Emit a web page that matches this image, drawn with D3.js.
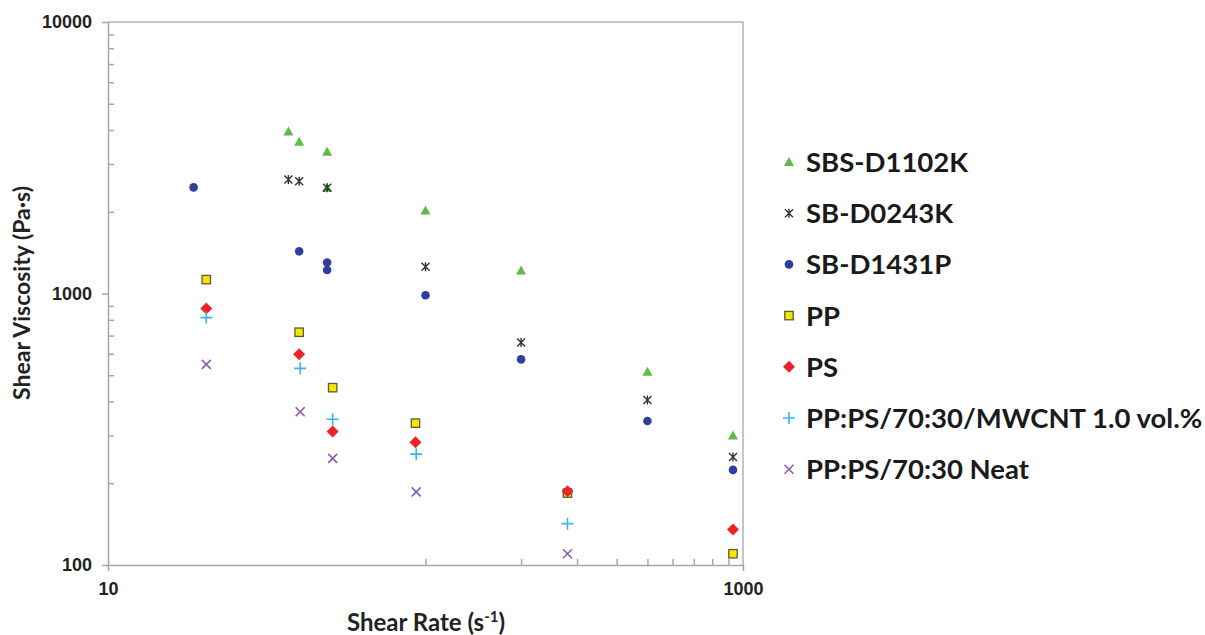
<!DOCTYPE html>
<html>
<head>
<meta charset="utf-8">
<script src="https://cdn.jsdelivr.net/npm/d3@7"></script>
<style>
body { margin: 0; background: #fff; }
svg { font-family: Lato, "Open Sans", sans-serif; font-weight: bold; }
.axis path, .axis line { stroke: #a6a6a6; stroke-width: 1.5; }
.axis text { fill: #222; font-size: 18px; font-weight: bold; }
</style>
</head>
<body>
<svg id="chart"></svg>
<script>
// данные
let sbsX = [37, 40, 49, 49, 100, 200, 500, 930];
let sbsY = [3950, 3620, 3330, 2450, 2020, 1215, 515, 300];
let sb0243X = [37, 40, 49, 100, 200, 500, 930];
let sb0243Y = [2630, 2590, 2450, 1255, 660, 405, 250];
let sb1431X = [18.6, 40, 49, 49, 100, 200, 500, 930];
let sb1431Y = [2460, 1430, 1300, 1220, 985, 572, 339, 224];
let ppX = [20.4, 40, 51, 93, 280, 930];
let ppY = [1125, 720, 450, 333, 184, 110];
let psX = [20.4, 40, 51, 93, 280, 930];
let psY = [880, 597, 310, 283, 187, 135];
let mwcntX = [20.4, 40.3, 51, 93.5, 280];
let mwcntY = [815, 530, 344, 256, 142];
let neatX = [20.4, 40.3, 51, 93.5, 280];
let neatY = [548, 367, 247, 186, 110];

let seriesNames = ["SBS-D1102K", "SB-D0243K", "SB-D1431P", "PP", "PS",
    "PP:PS/70:30/MWCNT 1.0 vol.%", "PP:PS/70:30 Neat"];
let xTicks = [10, 1000];
let yTicks = [100, 1000, 10000];

let series = [
    {name: seriesNames[0], xs: sbsX, ys: sbsY, shape: "triangle", color: "#5dbb46"},
    {name: seriesNames[1], xs: sb0243X, ys: sb0243Y, shape: "star", color: "#333333"},
    {name: seriesNames[2], xs: sb1431X, ys: sb1431Y, shape: "circle", color: "#2e409b"},
    {name: seriesNames[3], xs: ppX, ys: ppY, shape: "square", color: "#f3e600"},
    {name: seriesNames[4], xs: psX, ys: psY, shape: "diamond", color: "#ee2229"},
    {name: seriesNames[5], xs: mwcntX, ys: mwcntY, shape: "plus", color: "#3bb5e9"},
    {name: seriesNames[6], xs: neatX, ys: neatY, shape: "times", color: "#8a5bb0"}
];

let width = 1205, height = 635;
let mLeft = 108, mTop = 22, mRight = 743, mBottom = 565;

let svg = d3.select("#chart").attr("width", width).attr("height", height);

let scaleX = d3.scaleLog().domain([10, 1000]).range([mLeft, mRight]);
let scaleY = d3.scaleLog().domain([100, 10000]).range([mBottom, mTop]);

// рамка области построения (верх и право)
svg.append("path")
    .attr("d", `M${mLeft},${mTop}H${mRight}V${mBottom}`)
    .attr("fill", "none")
    .attr("stroke", "#b3b3b3")
    .attr("stroke-width", 1.5);

// мелкие деления по OY (внутрь)
let yMinor = [];
for (let d of [100, 1000]) for (let k = 2; k <= 9; k++) yMinor.push(d * k);
svg.append("g")
    .attr("class", "axis")
    .attr("transform", `translate(${mLeft},0)`)
    .call(d3.axisLeft(scaleY).tickValues(yMinor).tickSize(-6).tickFormat(""))
    .select(".domain").remove();

// мелкие деления по OX: только во второй декаде
let xMinor = [100, 200, 300, 400, 500, 600, 700, 800, 900];
svg.append("g")
    .attr("class", "axis")
    .attr("transform", `translate(0,${mBottom})`)
    .call(d3.axisBottom(scaleX).tickValues(xMinor).tickSize(-6).tickFormat(""))
    .select(".domain").remove();

// основные оси
let axisY = d3.axisLeft(scaleY).tickValues(yTicks).tickSize(6).tickSizeOuter(0)
    .tickFormat(d3.format("d")).tickPadding(10);
svg.append("g")
    .attr("class", "axis")
    .attr("transform", `translate(${mLeft},0)`)
    .call(axisY);

let axisX = d3.axisBottom(scaleX).tickValues(xTicks).tickSize(6).tickSizeOuter(0)
    .tickFormat(d3.format("d")).tickPadding(11);
svg.append("g")
    .attr("class", "axis")
    .attr("transform", `translate(0,${mBottom})`)
    .call(axisX);

// подписи осей
svg.append("text")
    .attr("transform", `translate(30, 293) rotate(-90)`)
    .attr("text-anchor", "middle")
    .style("font-size", "23px")
    .attr("fill", "#222")
    .text("Shear Viscosity (Pa·s)");

let xTitle = svg.append("text")
    .attr("x", 426).attr("y", 631)
    .attr("text-anchor", "middle")
    .style("font-size", "24px")
    .attr("fill", "#222");
xTitle.append("tspan").text("Shear Rate (s");
xTitle.append("tspan").attr("dy", -9).style("font-size", "15px").text("-1");
xTitle.append("tspan").attr("dy", 9).text(")");

// маркеры
function marker(sel, shape, color) {
    if (shape === "triangle") {
        sel.append("path").attr("d", "M0,-5L5,4L-5,4Z").attr("fill", color);
    } else if (shape === "circle") {
        sel.append("circle").attr("r", 4.3).attr("fill", color);
    } else if (shape === "square") {
        sel.append("rect").attr("x", -4.2).attr("y", -4.2).attr("width", 8.4).attr("height", 8.4)
            .attr("fill", color).attr("stroke", "#5f5a3a").attr("stroke-width", 1.3);
    } else if (shape === "diamond") {
        sel.append("path").attr("d", "M0,-6L6,0L0,6L-6,0Z").attr("fill", color);
    } else if (shape === "plus") {
        sel.append("path").attr("d", "M-6,0H6M0,-6V6").attr("stroke", color).attr("stroke-width", 1.6);
    } else if (shape === "times") {
        sel.append("path").attr("d", "M-4.5,-4.5L4.5,4.5M-4.5,4.5L4.5,-4.5").attr("stroke", color).attr("stroke-width", 1.6);
    } else if (shape === "star") {
        sel.append("path").attr("d", "M-4,-4L4,4M-4,4L4,-4M0,-4.5V4.5")
            .attr("stroke", color).attr("stroke-width", 1.4);
    }
}

for (let s of series) {
    let pts = s.xs.map((x, i) => ({x: x, y: s.ys[i]}));
    svg.append("g").selectAll("g")
        .data(pts)
        .enter()
        .append("g")
        .attr("transform", d => `translate(${scaleX(d.x)},${scaleY(d.y)})`)
        .each(function() { marker(d3.select(this), s.shape, s.color); });
}

// легенда
let legend = svg.append("g").selectAll("g")
    .data(series)
    .enter()
    .append("g")
    .attr("transform", (d, i) => `translate(789, ${162 + i * 51.2})`);
legend.each(function(d) { marker(d3.select(this), d.shape, d.color); });
legend.append("text")
    .attr("x", 17)
    .attr("dy", "0.36em")
    .style("font-size", "27.5px")
    .attr("fill", "#1a1a1a")
    .text(d => d.name);
</script>
</body>
</html>
